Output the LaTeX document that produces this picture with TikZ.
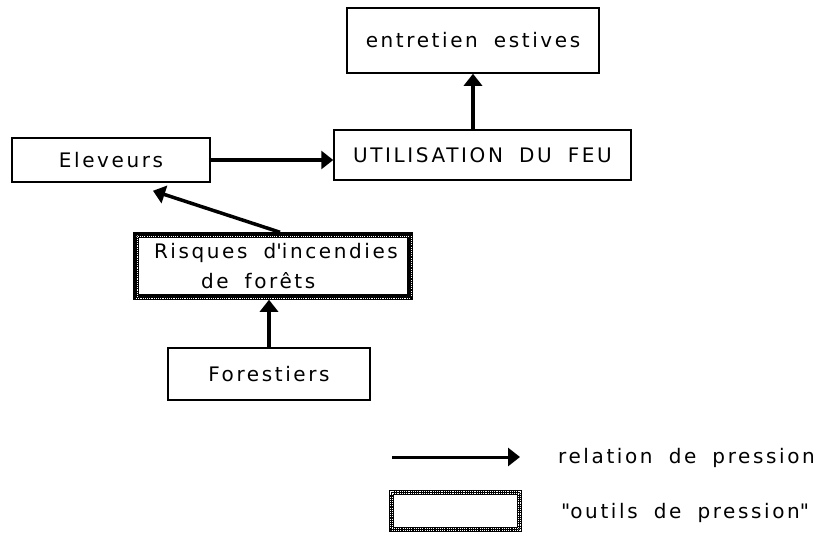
\documentclass[tikz,border=0pt]{standalone}
\usepackage{fontspec}
\setmainfont{DejaVu Sans}[LetterSpace=13,WordSpace=1.8]
\usetikzlibrary{arrows.meta,calc}
\begin{document}
\begin{tikzpicture}[x=1pt,y=-1pt,
  box/.style={draw=black,line width=1.5pt,rectangle,inner sep=0pt,font=\fontsize{20}{24}\selectfont},
  outil/.style={rectangle,inner sep=0pt,draw=black,line width=5.5pt,
     postaction={draw=white,line width=0.9pt,double=black,double distance=1.2pt,dash pattern=on 1.1pt off 1.1pt}},
  rel/.style={line width=3.5pt,-{Triangle[length=12pt,width=18pt]}},
  lab/.style={anchor=west,inner sep=0pt,font=\fontsize{20}{24}\selectfont}]
\useasboundingbox[fill=white] (0,0) rectangle (818,536);
\node[box,minimum width=252pt,minimum height=65pt] (entretien) at (473,40.5) {entretien estives};
\node[box,minimum width=297pt,minimum height=50pt] (util) at (482.5,155) {UTILISATION DU FEU};
\node[box,minimum width=198pt,minimum height=44pt] (eleveurs) at (111,160) {Eleveurs};
\node[outil,font=\fontsize{20}{30}\selectfont,minimum width=274pt,minimum height=62pt,text width=274pt,align=flush left] (risques) at (273,266) {\hspace*{18pt}Risques d\textquotesingle incendies\\\hspace*{65pt}de forêts};
\node[box,minimum width=202pt,minimum height=52pt] (forestiers) at (269,374) {Forestiers};
\node[outil,minimum width=128pt,minimum height=37pt] (legbox) at (455.5,511) {};
\coordinate (la1) at (392,457);
\coordinate (la2) at (520,457);
\node[lab] (t1) at (558,458) {relation de pression};
\node[lab] (t2) at (561,513) {\textquotedbl outils de pression\textquotedbl};
\draw[rel] (eleveurs.east) -- (eleveurs.east -| util.west);
\draw[rel] (entretien.south |- util.north) -- (entretien.south);
\draw[rel] (forestiers.north) -- (forestiers.north |- risques.south);
\draw[rel] ($(risques.north)+(7,0)$) -- ($(eleveurs.south)+(42,8)$);
\draw[rel,line width=3pt] (la1) -- (la2);
\end{tikzpicture}
\end{document}
